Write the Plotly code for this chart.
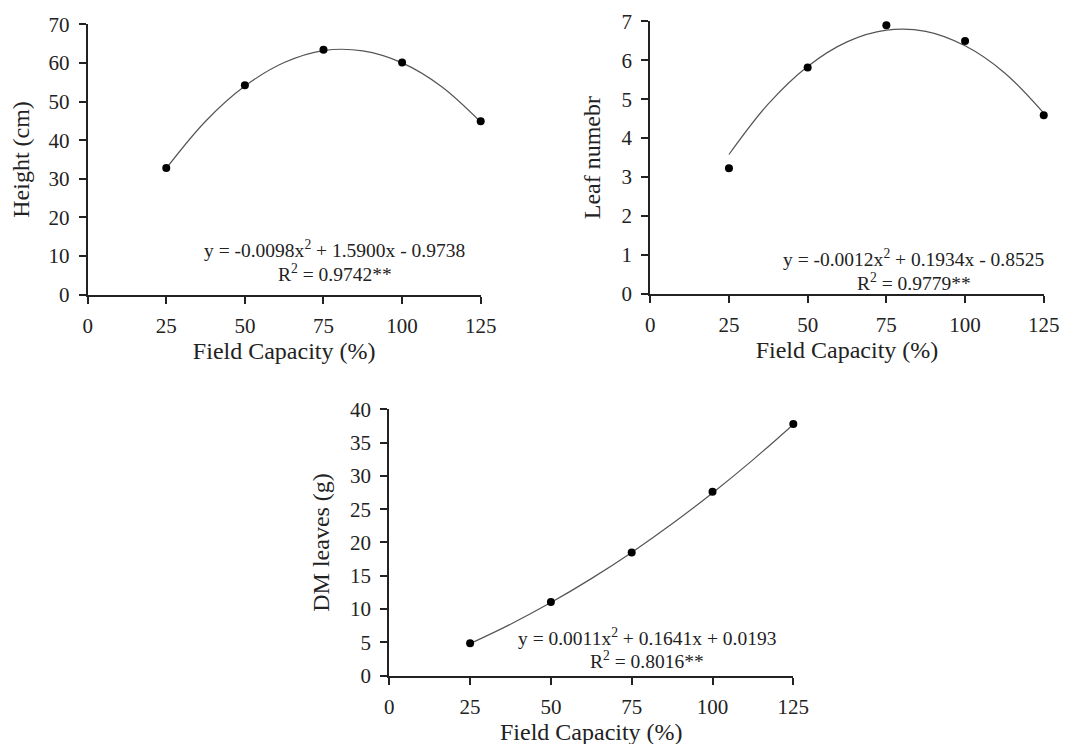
import plotly.graph_objects as go

# ---- data ----
field_capacity = [25, 50, 75, 100, 125]
height_cm = [32.8, 54.2, 63.4, 60.1, 44.9]
leaf_number = [3.23, 5.81, 6.90, 6.49, 4.59]
dm_leaves = [4.86, 11.07, 18.5, 27.6, 37.8]

trend_x = [25, 37.5, 50, 62.5, 75, 87.5, 100, 112.5, 125]
height_trend = [32.7, 44.9, 54.0, 60.1, 63.2, 63.1, 60.0, 53.9, 44.7]
leaf_trend = [3.58, 4.88, 5.84, 6.47, 6.77, 6.74, 6.37, 5.68, 4.64]
dm_trend = [4.81, 7.72, 10.97, 14.57, 18.51, 22.80, 27.43, 32.40, 37.72]

x_ticks = [0, 25, 50, 75, 100, 125]
height_ticks = [0, 10, 20, 30, 40, 50, 60, 70]
leaf_ticks = [0, 1, 2, 3, 4, 5, 6, 7]
dm_ticks = [0, 5, 10, 15, 20, 25, 30, 35, 40]

x_title = "Field Capacity (%)"
y_titles = ["Height (cm)", "Leaf numebr", "DM leaves (g)"]
SUP = "<sup style='font-size:13px'>2</sup>"
eq_lines = [
    ("y = -0.0098x" + SUP + " + 1.5900x - 0.9738", "R" + SUP + " = 0.9742**"),
    ("y = -0.0012x" + SUP + " + 0.1934x - 0.8525", "R" + SUP + " = 0.9779**"),
    ("y = 0.0011x" + SUP + " + 0.1641x + 0.0193", "R" + SUP + " = 0.8016**"),
]

FONT = "Liberation Serif, Times New Roman, serif"
TXT = "#222222"

fig = go.Figure()

panels = [
    (height_cm, height_trend, "x", "y"),
    (leaf_number, leaf_trend, "x2", "y2"),
    (dm_leaves, dm_trend, "x3", "y3"),
]
for vals, trend, xa, ya in panels:
    fig.add_trace(go.Scatter(x=trend_x, y=trend, mode="lines",
                             line=dict(color="#555555", width=1.2, shape="spline"),
                             xaxis=xa, yaxis=ya, showlegend=False, hoverinfo="skip",
                             cliponaxis=False))
    fig.add_trace(go.Scatter(x=field_capacity, y=vals, mode="markers",
                             marker=dict(color="black", size=8),
                             xaxis=xa, yaxis=ya, showlegend=False, cliponaxis=False))

def xax(domain, anchor):
    return dict(domain=domain, anchor=anchor, range=[0, 125], tickvals=x_ticks,
                showline=True, linecolor="#222", linewidth=2, ticks="outside",
                ticklen=7, tickwidth=1.5, tickcolor="#222", showgrid=False, zeroline=False,
                automargin=False, ticklabelstandoff=4,
                tickfont=dict(family=FONT, size=21, color=TXT),
                title=dict(text=x_title, font=dict(family=FONT, size=24, color=TXT), standoff=4))

def yax(domain, anchor, rng, ticks, title):
    return dict(domain=domain, anchor=anchor, range=rng, tickvals=ticks,
                showline=True, linecolor="#222", linewidth=2, ticks="outside",
                ticklen=7, tickwidth=1.5, tickcolor="#222", showgrid=False, zeroline=False,
                automargin=False, ticklabelstandoff=5,
                tickfont=dict(family=FONT, size=21, color=TXT),
                title=dict(text=title, font=dict(family=FONT, size=24, color=TXT), standoff=14))

fig.update_layout(
    width=1078, height=744,
    margin=dict(l=0, r=0, t=0, b=0, autoexpand=False),
    paper_bgcolor="white", plot_bgcolor="white",
    xaxis=xax([0.0739, 0.4385], "y"),
    yaxis=yax([0.6147, 0.9781], "x", [0, 70], height_ticks, y_titles[0]),
    xaxis2=xax([0.5958, 0.9608], "y2"),
    yaxis2=yax([0.6156, 0.9822], "x2", [0, 7], leaf_ticks, y_titles[1]),
    xaxis3=xax([0.3537, 0.7285], "y3"),
    yaxis3=yax([0.1026, 0.4607], "x3", [0, 40], dm_ticks, y_titles[2]),
)

eq_pos = [("x", "y", 78.6, 11.8, 5.6), ("x2", "y2", 83.7, 0.93, 0.32), ("x3", "y3", 79.6, 5.8, 2.4)]
for (xa, ya, xc, y1, y2), (l1, l2) in zip(eq_pos, eq_lines):
    for txt, yy in ((l1, y1), (l2, y2)):
        fig.add_annotation(x=xc, y=yy, xref=xa, yref=ya, text=txt, showarrow=False,
                           xanchor="center", yanchor="middle",
                           font=dict(family=FONT, size=19.5, color=TXT))

fig.write_html("out.html")
